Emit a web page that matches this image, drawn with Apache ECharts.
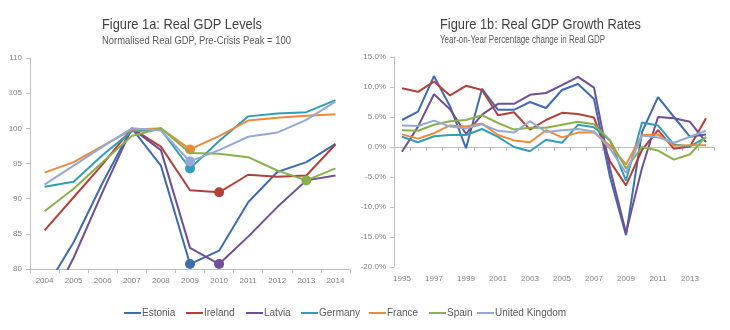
<!DOCTYPE html>
<html>
<head>
<meta charset="utf-8">
<script src="https://cdn.jsdelivr.net/npm/echarts@6/dist/echarts.min.js"></script>
<style>
  html, body { margin: 0; padding: 0; background: #ffffff; }
  #chart { width: 730px; height: 330px; }
</style>
</head>
<body>
<div id="chart"></div>
<script>
// Categories
const levelYears = ['2004','2005','2006','2007','2008','2009','2010','2011','2012','2013','2014'];
const growthYears = ['1995','1996','1997','1998','1999','2000','2001','2002','2003','2004',
                     '2005','2006','2007','2008','2009','2010','2011','2012','2013','2014'];
const countries = ['Estonia','Ireland','Latvia','Germany','France','Spain','United Kingdom'];

// Real GDP levels, pre-crisis peak = 100
const levelEstonia = [77.0, 83.8, 92.3, 100.0, 94.7, 80.7, 82.6, 89.5, 93.8, 95.2, 97.8];
const levelIreland = [85.5, 90.2, 94.9, 100.0, 97.4, 91.2, 90.9, 93.4, 93.1, 93.3, 97.7];
const levelLatvia  = [73.5, 81.6, 91.0, 100.0, 96.9, 83.0, 80.7, 84.6, 88.8, 92.6, 93.3];
const levelGermany = [91.7, 92.4, 96.2, 99.6, 99.8, 94.3, 98.2, 101.7, 102.1, 102.3, 104.0];
const levelFrance  = [93.7, 95.2, 97.5, 99.8, 100.0, 97.0, 98.9, 101.1, 101.5, 101.8, 102.0];
const levelSpain   = [88.2, 91.4, 95.2, 98.9, 100.0, 96.5, 96.4, 95.9, 94.0, 92.6, 94.3];
const levelUK      = [92.0, 94.7, 97.4, 100.0, 99.7, 95.3, 96.9, 98.8, 99.4, 101.2, 103.8];
// Trough year highlighted for each country
const troughYears  = ['2009','2010','2010','2009','2009','2013','2009'];

// Year-on-year real GDP growth, %
const growthEstonia = [4.5, 5.9, 11.8, 6.8, -0.2, 9.7, 6.2, 6.2, 7.5, 6.5, 9.5, 10.5, 8.0, -5.0, -14.7, 2.5, 8.3, 5.0, 1.7, 2.1];
const growthIreland = [9.8, 9.2, 10.9, 8.6, 10.2, 9.5, 5.3, 5.8, 2.9, 4.5, 5.7, 5.5, 4.9, -2.4, -6.4, -0.5, 2.8, -0.3, 0.1, 4.8];
const growthLatvia  = [-0.8, 3.4, 8.8, 6.3, 2.2, 5.4, 7.2, 7.2, 8.7, 9.0, 10.3, 11.7, 9.9, -3.6, -14.3, -3.5, 5.0, 4.8, 4.2, 0.8];
const growthGermany = [1.7, 0.8, 1.8, 2.0, 2.0, 3.0, 1.7, 0.0, -0.7, 1.2, 0.7, 3.7, 3.3, 1.1, -5.6, 4.1, 3.6, 0.4, 0.1, 1.6];
const growthFrance  = [2.1, 1.4, 2.3, 3.6, 3.4, 3.9, 2.0, 1.1, 0.8, 2.8, 1.6, 2.4, 2.4, 0.2, -2.9, 2.0, 2.1, 0.2, 0.3, 0.3];
const growthSpain   = [2.8, 2.7, 3.7, 4.3, 4.5, 5.3, 4.0, 2.9, 3.2, 3.2, 3.7, 4.2, 3.8, 1.1, -3.6, 0.0, -0.6, -2.1, -1.2, 1.7];
const growthUK      = [3.6, 3.5, 4.4, 3.4, 3.1, 3.8, 2.7, 2.4, 4.3, 2.5, 2.8, 3.0, 2.6, -0.3, -4.3, 1.9, 1.6, 0.7, 1.7, 2.7];

const levelTicks = { min: 80, max: 110, interval: 5 };
const growthTicks = { min: -20, max: 15, interval: 5 };

const palette = ['#3D6DAE', '#B3403B', '#6F4F97', '#339DB7', '#EC8A3A', '#8AB04A', '#93AAD6'];
// Left edge of each legend entry along the bottom row
const legendLeft = [124, 186, 246, 301, 369, 429, 477];

const levels = [levelEstonia, levelIreland, levelLatvia, levelGermany, levelFrance, levelSpain, levelUK];
const growths = [growthEstonia, growthIreland, growthLatvia, growthGermany, growthFrance, growthSpain, growthUK];

const textFont = '"Liberation Sans", Arial, sans-serif';
const axisGrey = '#BFBFBF';
const tickGrey = '#7F7F7F';

// Headings are drawn in a condensed style: squeeze each one to its set width
const measureCtx = document.createElement('canvas').getContext('2d');
function heading(text, x, y, size, width, color) {
  measureCtx.font = size + 'px ' + textFont;
  const natural = measureCtx.measureText(text).width;
  return {
    type: 'text', x: x, y: y, scaleX: width / natural, scaleY: 1,
    style: { text: text, font: size + 'px ' + textFont, fill: color,
             textAlign: 'left', textVerticalAlign: 'middle' },
    silent: true
  };
}

function axisCommon() {
  return {
    axisLine: { show: true, lineStyle: { color: axisGrey, width: 1 } },
    axisTick: { show: true, length: 4, lineStyle: { color: axisGrey } },
    axisLabel: { color: tickGrey, fontFamily: textFont, fontSize: 8 },
    splitLine: { show: false }
  };
}

const series = [];
countries.forEach((name, i) => {
  series.push({
    name: name,
    type: 'line',
    xAxisIndex: 0,
    yAxisIndex: 0,
    symbol: 'none',
    showSymbol: true,
    lineStyle: { width: 2, color: palette[i] },
    itemStyle: { color: palette[i] },
    emphasis: { disabled: true },
    z: 2 + i,
    data: levels[i].map((v, k) => levelYears[k] === troughYears[i]
      ? { value: v, symbol: 'circle', symbolSize: 10 }
      : v)
  });
});
countries.forEach((name, i) => {
  series.push({
    name: name,
    type: 'line',
    xAxisIndex: 1,
    yAxisIndex: 1,
    symbol: 'none',
    lineStyle: { width: 2, color: palette[i] },
    itemStyle: { color: palette[i] },
    emphasis: { disabled: true },
    z: 2 + i,
    data: growths[i]
  });
});

const legends = countries.map((name, i) => ({
  data: [name],
  left: legendLeft[i], top: 308,
  itemWidth: 17, itemHeight: 2,
  icon: 'rect',
  padding: 0,
  textStyle: { fontFamily: textFont, fontSize: 10, color: '#595959', padding: [0, 0, 0, -4] }
}));

const chart = echarts.init(document.getElementById('chart'), null, { renderer: 'canvas' });
chart.setOption({
  animation: false,
  backgroundColor: '#ffffff',
  graphic: [
    heading('Figure 1a: Real GDP Levels', 102, 25, 15, 160, '#404040'),
    heading('Normalised Real GDP, Pre-Crisis Peak = 100', 102, 41, 11, 189, '#595959'),
    heading('Figure 1b: Real GDP Growth Rates', 440, 25, 15, 201, '#404040'),
    heading('Year-on-Year Percentage change in Real GDP', 440, 40.5, 10, 165, '#595959')
  ],
  legend: legends,
  grid: [
    { left: 30, top: 58, width: 320, height: 211 },
    { left: 394, top: 57, width: 320, height: 210 }
  ],
  xAxis: [
    Object.assign(axisCommon(), {
      type: 'category', gridIndex: 0, data: levelYears, boundaryGap: true,
      axisLabel: { color: tickGrey, fontFamily: textFont, fontSize: 8, margin: 8, interval: 0 }
    }),
    Object.assign(axisCommon(), {
      type: 'category', gridIndex: 1, data: growthYears, boundaryGap: true,
      axisTick: { show: true, length: 4, interval: 0, lineStyle: { color: axisGrey } },
      axisLabel: { color: tickGrey, fontFamily: textFont, fontSize: 8, margin: 8, interval: 1 }
    })
  ],
  yAxis: [
    Object.assign(axisCommon(), {
      type: 'value', gridIndex: 0,
      min: levelTicks.min, max: levelTicks.max, interval: levelTicks.interval,
      axisLabel: { color: tickGrey, fontFamily: textFont, fontSize: 8, margin: 8 }
    }),
    Object.assign(axisCommon(), {
      type: 'value', gridIndex: 1,
      min: growthTicks.min, max: growthTicks.max, interval: growthTicks.interval,
      axisLabel: {
        color: tickGrey, fontFamily: textFont, fontSize: 8, margin: 8,
        formatter: v => v.toFixed(1) + '%'
      }
    })
  ],
  series: series
});
</script>
</body>
</html>
